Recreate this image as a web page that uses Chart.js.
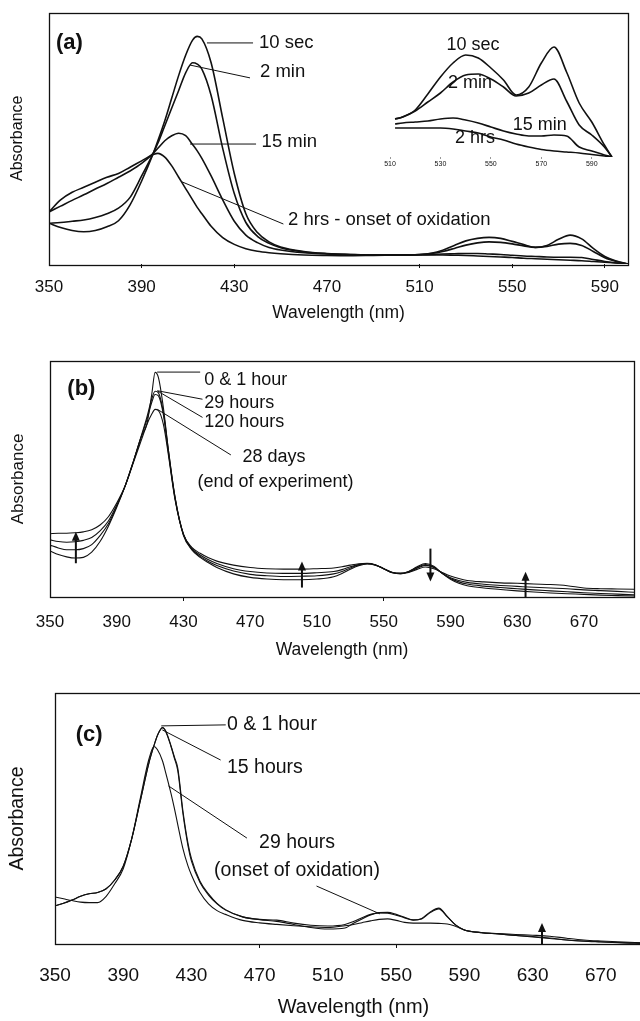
<!DOCTYPE html>
<html>
<head>
<meta charset="utf-8">
<script src="https://cdn.jsdelivr.net/npm/chart.js@4.4.0/dist/chart.umd.min.js"></script>
<style>
  body { margin: 0; background: #fff; width: 640px; height: 1021px; overflow: hidden; position: relative; }
  canvas { position: absolute; }
</style>
</head>
<body>
<canvas id="chartA" width="640" height="330" style="left:0;top:0"></canvas>
<canvas id="insetA" width="270" height="150" style="left:360px;top:30px"></canvas>
<canvas id="chartB" width="640" height="340" style="left:0;top:330px"></canvas>
<canvas id="chartC" width="660" height="351" style="left:0;top:670px"></canvas>
<script>
// ---- panel (a): Soret band, 350-600 nm ----
const wavelengthA = [350,355,360,365,370,375,380,385,390,395,397,400,403,406,409,412,414,416,420,425,430,435,440,445,450,460,470,480,490,500,510,515,520,525,530,535,540,545,550,555,560,565,570,575,580,585,590,595,600];
const absA10sec = [.162,.145,.133,.128,.133,.148,.172,.235,.33,.44,.49,.57,.66,.75,.83,.89,.905,.895,.80,.58,.36,.20,.125,.088,.068,.05,.042,.038,.036,.036,.038,.043,.055,.074,.092,.102,.106,.102,.09,.077,.066,.074,.098,.115,.10,.062,.03,.012,0];
const absA2min = [.162,.165,.17,.175,.185,.2,.222,.265,.35,.44,.48,.55,.62,.69,.76,.80,.795,.775,.67,.46,.28,.165,.11,.082,.065,.048,.041,.038,.036,.036,.038,.042,.05,.062,.075,.084,.088,.086,.08,.072,.066,.07,.079,.082,.074,.05,.025,.01,0];
const absA15min = [.207,.23,.253,.275,.298,.32,.345,.37,.40,.44,.46,.49,.51,.52,.51,.475,.45,.42,.35,.255,.17,.115,.085,.066,.056,.045,.04,.037,.036,.036,.037,.038,.04,.041,.042,.042,.04,.038,.035,.032,.03,.028,.027,.027,.026,.018,.01,.004,0];
const absA2hrs = [.207,.255,.285,.305,.325,.345,.36,.385,.41,.435,.44,.425,.39,.345,.30,.255,.225,.20,.15,.105,.078,.061,.051,.045,.041,.036,.034,.033,.034,.035,.036,.036,.036,.035,.034,.032,.03,.028,.026,.023,.021,.019,.017,.015,.013,.01,.007,.004,0];
const ticksA = [350,390,430,470,510,550,590];

// inset of (a): Q bands
const wavelengthInset = [512,515,520,525,530,535,540,545,550,555,560,565,570,575,580,585,590,595,598];
const inset10sec = [.038,.040,.047,.063,.080,.094,.102,.099,.089,.077,.062,.07,.094,.110,.085,.054,.035,.012,0];
const inset2min = [.038,.040,.046,.055,.064,.075,.082,.083,.078,.07,.061,.064,.072,.078,.056,.032,.022,.01,0];
const inset15min = [.033,.034,.035,.036,.038,.039,.037,.034,.03,.026,.023,.021,.021,.022,.021,.01,.006,.002,0];
const inset2hrs = [.029,.029,.029,.029,.029,.028,.026,.024,.02,.017,.013,.01,.0075,.006,.005,.004,.0025,.001,0];
const ticksInset = [510,530,550,570,590];

// ---- panel (b) ----
const wavelengthB = [350,355,360,365,370,375,380,385,390,395,400,405,408,411,413,415,418,421,425,430,435,440,445,450,460,470,480,490,500,510,520,525,530,535,540,545,550,555,560,565,570,575,580,585,590,595,600,610,620,630,640,650,660,670,680,690,700];
const absB1hour = [.195,.18,.17,.165,.168,.19,.235,.30,.38,.47,.575,.685,.73,.86,.952,.93,.80,.62,.42,.26,.2,.168,.145,.125,.098,.083,.076,.073,.073,.076,.086,.1,.118,.133,.14,.135,.12,.104,.098,.108,.128,.142,.13,.10,.075,.058,.048,.038,.032,.026,.021,.017,.014,.011,.008,.006,.004];
const absB29hours = [.22,.208,.2,.2,.205,.222,.26,.31,.385,.47,.575,.69,.76,.84,.872,.865,.78,.62,.42,.265,.203,.172,.15,.133,.11,.096,.09,.087,.088,.09,.098,.108,.123,.136,.141,.136,.12,.103,.1,.108,.125,.138,.127,.10,.078,.064,.055,.046,.04,.035,.03,.026,.022,.018,.015,.012,.009];
const absB120hours = [.242,.235,.232,.234,.24,.252,.28,.322,.39,.47,.575,.685,.75,.825,.858,.852,.77,.61,.415,.265,.206,.178,.158,.142,.12,.108,.102,.1,.1,.103,.108,.116,.128,.138,.142,.136,.12,.104,.1,.106,.122,.134,.125,.102,.082,.07,.062,.054,.049,.045,.041,.038,.035,.03,.027,.024,.02];
const absB28days = [.268,.27,.27,.272,.276,.285,.305,.34,.398,.47,.57,.67,.73,.775,.795,.79,.73,.60,.41,.265,.21,.185,.166,.152,.135,.125,.12,.118,.118,.12,.123,.128,.135,.141,.143,.137,.12,.105,.1,.104,.117,.127,.12,.104,.089,.078,.07,.064,.06,.058,.055,.053,.048,.038,.035,.034,.033];
const ticksB = [350,390,430,470,510,550,590,630,670];

// ---- panel (c) ----
const wavelengthC = [350,355,360,365,370,375,380,385,390,395,400,405,408,410,413,415,418,420,422,425,428,430,435,440,445,450,460,470,480,490,500,510,520,525,530,535,540,545,550,555,560,565,570,575,580,585,590,600,610,620,630,640,650,660,670,680,690,700];
const absC1hour = [.152,.162,.175,.19,.2,.205,.22,.255,.31,.42,.57,.72,.79,.83,.862,.845,.787,.74,.69,.52,.39,.33,.245,.195,.16,.135,.108,.098,.095,.083,.075,.072,.078,.09,.105,.118,.124,.123,.115,.104,.095,.102,.128,.143,.11,.075,.056,.045,.04,.034,.028,.022,.016,.012,.009,.006,.004,.002];
const absC15hours = [.152,.162,.175,.19,.2,.205,.22,.255,.31,.42,.57,.72,.79,.83,.862,.848,.79,.745,.70,.53,.40,.34,.25,.2,.162,.137,.108,.097,.09,.078,.066,.06,.064,.083,.1,.116,.125,.126,.118,.106,.096,.1,.125,.14,.108,.075,.056,.046,.042,.038,.035,.031,.023,.016,.012,.009,.006,.004];
const absC29hours = [.187,.18,.173,.167,.165,.165,.19,.24,.30,.42,.58,.735,.787,.775,.73,.68,.60,.54,.475,.38,.31,.275,.205,.16,.133,.118,.094,.084,.078,.073,.069,.066,.073,.078,.085,.092,.098,.10,.094,.086,.083,.083,.083,.082,.08,.07,.056,.045,.04,.034,.03,.024,.016,.011,.008,.005,.003,.001];
const ticksC = [350,390,430,470,510,550,590,630,670];

const ink = '#111';
const family = '"Liberation Sans", Arial, Helvetica, sans-serif';
Chart.defaults.font.family = family;
Chart.defaults.color = ink;

// callouts, panel letters and arrows, placed in data units (nm, absorbance)
function overlay(notes) {
  return {
    id: 'notes',
    afterDatasetsDraw(chart) {
      const {ctx, chartArea: a, scales} = chart;
      const px = v => scales.x.getPixelForValue(v);
      const py = v => scales.y.getPixelForValue(v);
      ctx.save();
      ctx.strokeStyle = ink;
      ctx.fillStyle = ink;
      if (notes.frame) {
        ctx.lineWidth = notes.frame;
        ctx.strokeRect(Math.round(a.left) + 0.5, Math.round(a.top) + 0.5,
          Math.round(a.right - a.left), Math.round(a.bottom - a.top));
      }
      ctx.lineWidth = 1;
      (notes.leaders || []).forEach(l => {
        ctx.beginPath();
        ctx.moveTo(px(l[0]), py(l[1]));
        ctx.lineTo(px(l[2]), py(l[3]));
        ctx.stroke();
      });
      ctx.textBaseline = 'middle';
      ctx.font = notes.fontSize + 'px ' + family;
      (notes.labels || []).forEach(t => {
        ctx.textAlign = t[3] || 'left';
        ctx.fillText(t[0], px(t[1]), py(t[2]));
      });
      if (notes.letter) {
        ctx.textAlign = 'left';
        ctx.font = 'bold 22px ' + family;
        ctx.fillText(notes.letter[0], px(notes.letter[1]), py(notes.letter[2]));
      }
      ctx.lineWidth = 2;
      (notes.arrows || []).forEach(r => {
        const x = px(r[0]), y0 = py(r[1]), y1 = py(r[2]);
        const dir = y1 < y0 ? 1 : -1;
        ctx.beginPath();
        ctx.moveTo(x, y0);
        ctx.lineTo(x, y1 + dir * 6);
        ctx.stroke();
        ctx.beginPath();
        ctx.moveTo(x, y1);
        ctx.lineTo(x - 4, y1 + dir * 9);
        ctx.lineTo(x + 4, y1 + dir * 9);
        ctx.closePath();
        ctx.fill();
      });
      ctx.restore();
    }
  };
}

function makePanel(id, p) {
  return new Chart(document.getElementById(id), {
    type: 'line',
    data: {
      datasets: p.series.map(s => ({
        label: s[0],
        data: p.wl.map((w, i) => ({x: w, y: s[1][i]})),
        borderColor: ink,
        borderWidth: p.lineWidth,
        pointRadius: 0,
        cubicInterpolationMode: 'monotone',
        fill: false
      }))
    },
    options: {
      responsive: false,
      animation: false,
      devicePixelRatio: 1,
      layout: {padding: p.padding},
      plugins: {legend: {display: false}, tooltip: {enabled: false}},
      scales: {
        x: {
          type: 'linear', min: p.xMin, max: p.xMax,
          afterBuildTicks: s => { s.ticks = p.ticks.map(v => ({value: v})); },
          afterFit: s => { s.height = p.xHeight; s.paddingLeft = 0; s.paddingRight = 0; },
          ticks: {font: {size: p.tickSize}, color: ink, padding: p.tickPad, maxRotation: 0, autoSkip: false},
          grid: {drawOnChartArea: false, tickLength: p.tickLen, tickWidth: 1,
                 tickColor: c => (c.tick && p.marked.includes(c.tick.value)) ? p.tickInk : 'rgba(0,0,0,0)'},
          border: {display: false},
          title: {display: !!p.xTitle, text: p.xTitle, color: ink, font: {size: p.titleSize}, padding: {top: 0, bottom: p.xTitlePad}}
        },
        y: {
          display: !!p.yTitle,
          min: 0, max: p.yMax,
          afterFit: s => { s.width = p.yWidth; },
          ticks: {display: false},
          grid: {display: false},
          border: {display: false},
          title: {display: !!p.yTitle, text: p.yTitle, color: ink, font: {size: p.yTitleSize}, padding: {top: p.yTitlePad, bottom: 0}}
        }
      }
    },
    plugins: [overlay(p.notes)]
  });
}

makePanel('chartA', {
  wl: wavelengthA,
  series: [['10 sec', absA10sec], ['2 min', absA2min], ['15 min', absA15min], ['2 hrs', absA2hrs]],
  lineWidth: 1.6, xMin: 350, xMax: 600, yMax: 1, ticks: ticksA, marked: [390,430,510,550,590],
  padding: {left: 0, top: 12.5, right: 12, bottom: 0}, yWidth: 49, xHeight: 66,
  tickSize: 17, tickPad: 8.8, tickLen: 4, tickInk: ink,
  xTitle: 'Wavelength (nm)', titleSize: 17.5, xTitlePad: 6.5,
  yTitle: 'Absorbance', yTitleSize: 16, yTitlePad: 8.4,
  notes: {
    frame: 1.3, fontSize: 18.5,
    letter: ['(a)', 353, 0.879],
    leaders: [[418.2,0.879,438.1,0.879],[410.9,0.791,436.8,0.74],[410.9,0.477,439.4,0.477],[407.3,0.327,451.2,0.159]],
    labels: [['10 sec',440.7,0.879],['2 min',441.1,0.763],['15 min',441.8,0.485],['2 hrs - onset of oxidation',453.2,0.177]]
  }
});

makePanel('insetA', {
  wl: wavelengthInset,
  series: [['10 sec', inset10sec], ['2 min', inset2min], ['15 min', inset15min], ['2 hrs', inset2hrs]],
  lineWidth: 1.6, xMin: 510, xMax: 600, yMax: 0.117, ticks: ticksInset, marked: ticksInset,
  padding: {left: 30, top: 10, right: 13, bottom: 0}, yWidth: 0, xHeight: 23,
  tickSize: 7, tickPad: 1, tickLen: 2, tickInk: '#999',
  notes: {
    fontSize: 18,
    labels: [['10 sec',542.9,0.112,'center'],['2 min',541.7,0.074,'center'],['15 min',569.4,0.032,'center'],['2 hrs',543.7,0.019,'center']]
  }
});

makePanel('chartB', {
  wl: wavelengthB,
  series: [['0 & 1 hour', absB1hour], ['29 hours', absB29hours], ['120 hours', absB120hours], ['28 days', absB28days]],
  lineWidth: 1.1, xMin: 350, xMax: 700, yMax: 1, ticks: ticksB, marked: [430,550],
  padding: {left: 0, top: 31, right: 6, bottom: 0}, yWidth: 50, xHeight: 73,
  tickSize: 17, tickPad: 10.8, tickLen: 4, tickInk: ink,
  xTitle: 'Wavelength (nm)', titleSize: 17.5, xTitlePad: 9.5,
  yTitle: 'Absorbance', yTitleSize: 17, yTitlePad: 7.8,
  notes: {
    frame: 1.3, fontSize: 18,
    letter: ['(b)', 360.4, 0.88],
    leaders: [[414.2,0.953,440,0.953],[414.4,0.874,441.4,0.838],[414.4,0.873,441.4,0.761],[414.4,0.795,458.4,0.602]],
    labels: [['0 & 1 hour',442.4,0.919],['29 hours',442.4,0.823],['120 hours',442.4,0.74],['28 days',465.4,0.592],['(end of experiment)',438.4,0.489]],
    arrows: [[365.5,0.143,0.277],[501,0.04,0.15],[578,0.205,0.066],[635,0.0,0.107]]
  }
});

makePanel('chartC', {
  wl: wavelengthC,
  series: [['0 & 1 hour', absC1hour], ['15 hours', absC15hours], ['29 hours', absC29hours]],
  lineWidth: 1.1, xMin: 350, xMax: 700, yMax: 1, ticks: ticksC, marked: [470,550],
  padding: {left: 0, top: 23, right: 8, bottom: 0}, yWidth: 55, xHeight: 77,
  tickSize: 19, tickPad: 16.6, tickLen: 4, tickInk: ink,
  xTitle: 'Wavelength (nm)', titleSize: 20, xTitlePad: 2,
  yTitle: 'Absorbance', yTitleSize: 19.5, yTitlePad: 6.3,
  notes: {
    frame: 1.3, fontSize: 19.5,
    letter: ['(c)', 362.1, 0.833],
    leaders: [[412.3,0.869,450.1,0.873],[412.9,0.853,447.1,0.733],[416.5,0.63,462.5,0.422],[503.3,0.231,540.5,0.12]],
    labels: [['0 & 1 hour',450.8,0.873],['15 hours',450.8,0.701],['29 hours',491.9,0.402,'center'],['(onset of oxidation)',491.9,0.291,'center']],
    arrows: [[635.5,0.0,0.084]]
  }
});
</script>
</body>
</html>
